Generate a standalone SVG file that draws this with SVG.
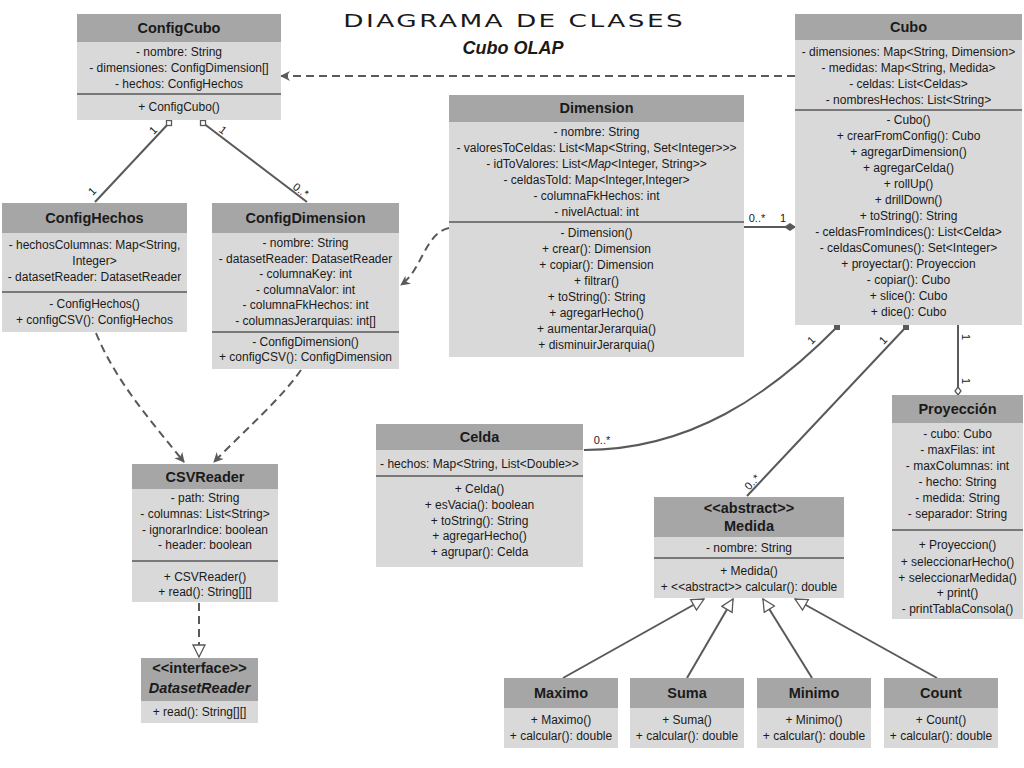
<svg xmlns="http://www.w3.org/2000/svg" width="1024" height="768" viewBox="0 0 1024 768">
<defs>
<style>
.hd{fill:#a6a6a6}
.bd{fill:#d9d9d9}
.dv{stroke:#1a1a1a;stroke-width:1.2}
.t{font-family:"Liberation Sans","Noto Sans",Arial,sans-serif;font-size:12px;fill:#1a1a1a;text-anchor:middle;dominant-baseline:central}
.tt{font-family:"Liberation Sans","Noto Sans",Arial,sans-serif;font-size:14.5px;font-weight:bold;fill:#1a1a1a;text-anchor:middle;dominant-baseline:central}
.c{fill:none;stroke:#595959;stroke-width:2}
.d{stroke-dasharray:8,5}
.lb{font-family:"Liberation Sans","Noto Sans",Arial,sans-serif;font-size:11px;fill:#1a1a1a;text-anchor:middle;dominant-baseline:central}
</style>
<marker id="dep" viewBox="0 0 10 10" refX="9" refY="5" markerWidth="10" markerHeight="10" markerUnits="userSpaceOnUse" orient="auto"><path d="M0,0 L10,5 L0,10 L3,5 Z" fill="#595959"/></marker>
<marker id="tri" viewBox="0 0 14 14" refX="13" refY="7" markerWidth="14" markerHeight="14" markerUnits="userSpaceOnUse" orient="auto"><path d="M1,1 L13,7 L1,13 Z" fill="#ffffff" stroke="#595959" stroke-width="1.3"/></marker>
<marker id="dia" viewBox="0 0 12 10" refX="11" refY="5" markerWidth="12" markerHeight="10" markerUnits="userSpaceOnUse" orient="auto"><path d="M0,5 L6,1 L12,5 L6,9 Z" fill="#595959"/></marker>
<marker id="odia" viewBox="0 0 10 10" refX="9" refY="5" markerWidth="10" markerHeight="10" markerUnits="userSpaceOnUse" orient="auto"><path d="M1,5 L5,2 L9,5 L5,8 Z" fill="#ffffff" stroke="#595959" stroke-width="1.3"/></marker>
</defs>
<rect width="1024" height="768" fill="#ffffff"/>

<text transform="translate(513,21) scale(1.55,1)" x="0" y="0" font-family="DejaVu Sans,Liberation Sans,sans-serif" font-size="17" fill="#1a1a1a" text-anchor="middle" dominant-baseline="central" textLength="219" lengthAdjust="spacing">DIAGRAMA DE CLASES</text>
<text x="513" y="48" font-family="Liberation Sans,DejaVu Sans,sans-serif" font-size="18" font-weight="bold" font-style="italic" fill="#1a1a1a" text-anchor="middle" dominant-baseline="central">Cubo OLAP</text>

<g id="connectors">
<path class="c d" d="M795,76 L281,76" marker-end="url(#dep)"/>
<path class="c" d="M169,123 L95,202"/>
<path class="c" d="M203,123 L307,202"/>
<rect x="166.5" y="120.5" width="5" height="5" fill="#fff" stroke="#595959" stroke-width="1.3"/>
<rect x="200.5" y="120.5" width="5" height="5" fill="#fff" stroke="#595959" stroke-width="1.3"/>
<text class="lb" transform="translate(153,130) rotate(-46)">1</text>
<text class="lb" transform="translate(92,191) rotate(-46)">1</text>
<text class="lb" transform="translate(223,130) rotate(37)">1</text>
<text class="lb" transform="translate(301,190) rotate(37)">0..*</text>

<path class="c" d="M744,227 L795,227" marker-end="url(#dia)"/>
<text class="lb" x="757" y="218">0..*</text>
<text class="lb" x="783" y="218">1</text>

<path class="c d" d="M449,228 C 425,233 422,270 401,285" marker-end="url(#dep)"/>
<path class="c d" d="M96,333 C 115,380 150,420 184,462" marker-end="url(#dep)"/>
<path class="c d" d="M301,370 C 280,400 245,430 214,462" marker-end="url(#dep)"/>
<path class="c d" d="M199,603 L199,657" marker-end="url(#tri)"/>

<path class="c" d="M837,327 C 770,395 690,450 584,450"/>
<rect x="834" y="324" width="6" height="6" fill="#595959"/>
<text class="lb" transform="translate(811,340) rotate(-45)">1</text>
<text class="lb" x="602" y="440">0..*</text>

<path class="c" d="M906,327 L747,496"/>
<rect x="903" y="324" width="6" height="6" fill="#595959"/>
<text class="lb" transform="translate(883,340) rotate(-47)">1</text>
<text class="lb" transform="translate(752,482) rotate(-47)">0..*</text>

<path class="c" d="M958,325 L958,395" marker-end="url(#odia)"/>
<text class="lb" transform="translate(966,337) rotate(90)">1</text>
<text class="lb" transform="translate(966,381) rotate(90)">1</text>

<path class="c" d="M563,678 L704,599" marker-end="url(#tri)"/>
<path class="c" d="M687,678 L733,599" marker-end="url(#tri)"/>
<path class="c" d="M812,678 L763,599" marker-end="url(#tri)"/>
<path class="c" d="M937,678 L795,599" marker-end="url(#tri)"/>
</g>

<g id="ConfigCubo">
<rect class="bd" x="77" y="14" width="204" height="106"/>
<rect class="hd" x="77" y="14" width="204" height="28"/>
<text class="tt" x="179" y="28">ConfigCubo</text>
<text class="t" x="179" y="52">- nombre: String</text>
<text class="t" x="179" y="68">- dimensiones: ConfigDimension[]</text>
<text class="t" x="179" y="84">- hechos: ConfigHechos</text>
<line class="dv" x1="77" y1="94" x2="281" y2="94"/>
<text class="t" x="179" y="107">+ ConfigCubo()</text>
</g>

<g id="Cubo">
<rect class="bd" x="795" y="14" width="227" height="311"/>
<rect class="hd" x="795" y="14" width="227" height="26"/>
<text class="tt" x="908.5" y="27">Cubo</text>
<text class="t" x="908.5" y="52">- dimensiones: Map&lt;String, Dimension&gt;</text>
<text class="t" x="908.5" y="68">- medidas: Map&lt;String, Medida&gt;</text>
<text class="t" x="908.5" y="84">- celdas: List&lt;Celdas&gt;</text>
<text class="t" x="908.5" y="100">- nombresHechos: List&lt;String&gt;</text>
<line class="dv" x1="795" y1="110" x2="1022" y2="110"/>
<text class="t" x="908.5" y="120">- Cubo()</text>
<text class="t" x="908.5" y="136">+ crearFromConfig(): Cubo</text>
<text class="t" x="908.5" y="152">+ agregarDimension()</text>
<text class="t" x="908.5" y="168">+ agregarCelda()</text>
<text class="t" x="908.5" y="184">+ rollUp()</text>
<text class="t" x="908.5" y="200">+ drillDown()</text>
<text class="t" x="908.5" y="216">+ toString(): String</text>
<text class="t" x="908.5" y="232">- celdasFromIndices(): List&lt;Celda&gt;</text>
<text class="t" x="908.5" y="248">- celdasComunes(): Set&lt;Integer&gt;</text>
<text class="t" x="908.5" y="264">+ proyectar(): Proyeccion</text>
<text class="t" x="908.5" y="280">- copiar(): Cubo</text>
<text class="t" x="908.5" y="296">+ slice(): Cubo</text>
<text class="t" x="908.5" y="312">+ dice(): Cubo</text>
</g>

<g id="Dimension">
<rect class="bd" x="449" y="95" width="295" height="262"/>
<rect class="hd" x="449" y="95" width="295" height="27"/>
<text class="tt" x="596.5" y="108">Dimension</text>
<text class="t" x="596.5" y="132">- nombre: String</text>
<text class="t" x="596.5" y="148">- valoresToCeldas: List&lt;Map&lt;String, Set&lt;Integer&gt;&gt;&gt;</text>
<text class="t" x="596.5" y="164">- idToValores: List&lt;<tspan font-style="italic">Map</tspan>&lt;Integer, String&gt;&gt;</text>
<text class="t" x="596.5" y="180">- celdasToId: Map&lt;Integer,Integer&gt;</text>
<text class="t" x="596.5" y="196">- columnaFkHechos: int</text>
<text class="t" x="596.5" y="212">- nivelActual: int</text>
<line class="dv" x1="449" y1="222" x2="744" y2="222"/>
<text class="t" x="596.5" y="233">- Dimension()</text>
<text class="t" x="596.5" y="249">+ crear(): Dimension</text>
<text class="t" x="596.5" y="265">+ copiar(): Dimension</text>
<text class="t" x="596.5" y="281">+ filtrar()</text>
<text class="t" x="596.5" y="297">+ toString(): String</text>
<text class="t" x="596.5" y="313">+ agregarHecho()</text>
<text class="t" x="596.5" y="329">+ aumentarJerarquia()</text>
<text class="t" x="596.5" y="345">+ disminuirJerarquia()</text>
</g>

<g id="ConfigHechos">
<rect class="bd" x="2" y="203" width="185" height="129"/>
<rect class="hd" x="2" y="203" width="185" height="30"/>
<text class="tt" x="94.5" y="218">ConfigHechos</text>
<text class="t" x="94.5" y="245">- hechosColumnas: Map&lt;String,</text>
<text class="t" x="94.5" y="261">Integer&gt;</text>
<text class="t" x="94.5" y="277">- datasetReader: DatasetReader</text>
<line class="dv" x1="2" y1="292" x2="187" y2="292"/>
<text class="t" x="94.5" y="304">- ConfigHechos()</text>
<text class="t" x="94.5" y="320">+ configCSV(): ConfigHechos</text>
</g>

<g id="ConfigDimension">
<rect class="bd" x="212" y="203" width="187" height="166"/>
<rect class="hd" x="212" y="203" width="187" height="30"/>
<text class="tt" x="305.5" y="218">ConfigDimension</text>
<text class="t" x="305.5" y="243">- nombre: String</text>
<text class="t" x="305.5" y="258.5">- datasetReader: DatasetReader</text>
<text class="t" x="305.5" y="274">- columnaKey: int</text>
<text class="t" x="305.5" y="289.5">- columnaValor: int</text>
<text class="t" x="305.5" y="305">- columnaFkHechos: int</text>
<text class="t" x="305.5" y="320.5">- columnasJerarquias: int[]</text>
<line class="dv" x1="212" y1="332" x2="399" y2="332"/>
<text class="t" x="305.5" y="342">- ConfigDimension()</text>
<text class="t" x="305.5" y="357">+ configCSV(): ConfigDimension</text>
</g>

<g id="CSVReader">
<rect class="bd" x="132" y="464" width="146" height="138"/>
<rect class="hd" x="132" y="464" width="146" height="25"/>
<text class="tt" x="205" y="476.5">CSVReader</text>
<text class="t" x="205" y="498">- path: String</text>
<text class="t" x="205" y="514">- columnas: List&lt;String&gt;</text>
<text class="t" x="205" y="530">- ignorarIndice: boolean</text>
<text class="t" x="205" y="545">- header: boolean</text>
<line class="dv" x1="132" y1="561" x2="278" y2="561"/>
<text class="t" x="205" y="577">+ CSVReader()</text>
<text class="t" x="205" y="592">+ read(): String[][]</text>
</g>

<g id="DatasetReader">
<rect class="bd" x="141" y="658" width="117" height="65"/>
<rect class="hd" x="141" y="658" width="117" height="43"/>
<text class="tt" x="199.5" y="668">&lt;&lt;interface&gt;&gt;</text>
<text class="tt" x="199.5" y="688" font-style="italic">DatasetReader</text>
<text class="t" x="199.5" y="712">+ read(): String[][]</text>
</g>

<g id="Celda">
<rect class="bd" x="376" y="424" width="207" height="143"/>
<rect class="hd" x="376" y="424" width="207" height="26"/>
<text class="tt" x="479.5" y="437">Celda</text>
<text class="t" x="479.5" y="463.5">- hechos: Map&lt;String, List&lt;Double&gt;&gt;</text>
<line class="dv" x1="376" y1="476" x2="583" y2="476"/>
<text class="t" x="479.5" y="489">+ Celda()</text>
<text class="t" x="479.5" y="505">+ esVacia(): boolean</text>
<text class="t" x="479.5" y="520.5">+ toString(): String</text>
<text class="t" x="479.5" y="536">+ agregarHecho()</text>
<text class="t" x="479.5" y="552">+ agrupar(): Celda</text>
</g>

<g id="Medida">
<rect class="bd" x="654" y="497" width="190" height="101"/>
<rect class="hd" x="654" y="497" width="190" height="40"/>
<text class="tt" x="749" y="508">&lt;&lt;abstract&gt;&gt;</text>
<text class="tt" x="749" y="526">Medida</text>
<text class="t" x="749" y="547.5">- nombre: String</text>
<line class="dv" x1="654" y1="558" x2="844" y2="558"/>
<text class="t" x="749" y="571">+ Medida()</text>
<text class="t" x="749" y="587">+ &lt;&lt;abstract&gt;&gt; calcular(): double</text>
</g>

<g id="Proyeccion">
<rect class="bd" x="892" y="395" width="131" height="224"/>
<rect class="hd" x="892" y="395" width="131" height="28"/>
<text class="tt" x="957.5" y="409">Proyección</text>
<text class="t" x="957.5" y="434">- cubo: Cubo</text>
<text class="t" x="957.5" y="450">- maxFilas: int</text>
<text class="t" x="957.5" y="466">- maxColumnas: int</text>
<text class="t" x="957.5" y="482">- hecho: String</text>
<text class="t" x="957.5" y="498">- medida: String</text>
<text class="t" x="957.5" y="514">- separador: String</text>
<line class="dv" x1="892" y1="530" x2="1023" y2="530"/>
<text class="t" x="957.5" y="545">+ Proyeccion()</text>
<text class="t" x="957.5" y="561.5">+ seleccionarHecho()</text>
<text class="t" x="957.5" y="577.5">+ seleccionarMedida()</text>
<text class="t" x="957.5" y="592.5">+ print()</text>
<text class="t" x="957.5" y="608.5">- printTablaConsola()</text>
</g>

<g id="Maximo">
<rect class="bd" x="504" y="678" width="114" height="70"/>
<rect class="hd" x="504" y="678" width="114" height="30"/>
<text class="tt" x="561" y="693">Maximo</text>
<text class="t" x="561" y="720">+ Maximo()</text>
<text class="t" x="561" y="736">+ calcular(): double</text>
</g>
<g id="Suma">
<rect class="bd" x="630" y="678" width="114" height="70"/>
<rect class="hd" x="630" y="678" width="114" height="30"/>
<text class="tt" x="687" y="693">Suma</text>
<text class="t" x="687" y="720">+ Suma()</text>
<text class="t" x="687" y="736">+ calcular(): double</text>
</g>
<g id="Minimo">
<rect class="bd" x="757" y="678" width="114" height="70"/>
<rect class="hd" x="757" y="678" width="114" height="30"/>
<text class="tt" x="814" y="693">Minimo</text>
<text class="t" x="814" y="720">+ Minimo()</text>
<text class="t" x="814" y="736">+ calcular(): double</text>
</g>
<g id="Count">
<rect class="bd" x="884" y="678" width="114" height="70"/>
<rect class="hd" x="884" y="678" width="114" height="30"/>
<text class="tt" x="941" y="693" font-size="16">Count</text>
<text class="t" x="941" y="720">+ Count()</text>
<text class="t" x="941" y="736">+ calcular(): double</text>
</g>
</svg>
